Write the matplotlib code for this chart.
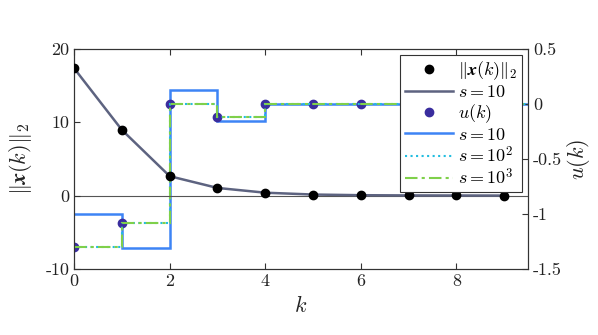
import numpy as np
import matplotlib
matplotlib.use("Agg")
import matplotlib.pyplot as plt
from matplotlib.lines import Line2D

plt.rcParams['font.family'] = ['cmr10', 'DejaVu Serif']
plt.rcParams['mathtext.fontset'] = 'cm'
plt.rcParams['axes.unicode_minus'] = False
plt.rcParams['axes.formatter.use_mathtext'] = False

k = np.arange(10)
x_norm = [17.35, 8.95, 2.65, 1.05, 0.4, 0.15, 0.06, 0.03, 0.02, 0.01]
u_k = [-1.30, -1.086, -0.005, -0.118, -0.005, -0.005, -0.005, -0.005, -0.005, -0.005]
u_s10 = [-1.0, -1.31, 0.125, -0.158, -0.005, -0.005, -0.005, -0.005, -0.005, -0.005]
u_s100 = [-1.30, -1.086, -0.005, -0.115, -0.005, -0.005, -0.005, -0.005, -0.005, -0.005]
u_s1000 = [-1.30, -1.086, -0.005, -0.115, -0.005, -0.005, -0.005, -0.005, -0.005, -0.005]
edges = np.arange(11)

c_norm = '#5d6380'
c_u = '#3a2d9e'
c_s10 = '#3d84f5'
c_s100 = '#22bde0'
c_s1000 = '#7fd04a'
spine_c = '#333333'

fig = plt.figure(figsize=(5.98, 3.35), dpi=100)
ax = fig.add_axes([0.124, 0.197, 0.759, 0.657])
ax2 = ax.twinx()
ax.set_zorder(2)
ax.patch.set_visible(False)

ax.axhline(0, color='#555555', lw=0.8, zorder=1)
ax.plot(k, x_norm, color=c_norm, lw=1.8, zorder=3)
ax.plot(k, x_norm, 'o', color='black', ms=6, zorder=4)

ax2.stairs(u_s10, edges, color=c_s10, lw=1.8, baseline=None)
ax2.plot(k, u_k, 'o', color=c_u, ms=6, zorder=3)
ax2.stairs(u_s100, edges, color=c_s100, lw=1.5, ls=':', baseline=None, zorder=4)
ax2.stairs(u_s1000, edges, color=c_s1000, lw=1.5, ls=(0, (6, 2, 1.5, 2)), baseline=None, zorder=5)

ax.set_xlim(0, 9.5)
ax.set_ylim(-10, 20)
ax2.set_ylim(-1.5, 0.5)
ax.set_xticks([0, 2, 4, 6, 8])
ax.set_yticks([-10, 0, 10, 20])
ax2.set_yticks([-1.5, -1, -0.5, 0, 0.5])
ax2.set_yticklabels(['-1.5', '-1', '-0.5', '0', '0.5'])

for a in (ax, ax2):
    for s in a.spines.values():
        s.set_color(spine_c)
        s.set_linewidth(0.8)
    a.tick_params(direction='in', labelsize=13, colors=spine_c, labelcolor='#222222', length=4, width=0.8)
ax.tick_params(top=True, right=False)
ax2.tick_params(right=True, left=False)

ax.set_xlabel(r'$k$', fontsize=16, color='#222222', labelpad=4)
ax.set_ylabel(r'$\|\boldsymbol{x}(k)\|_2$', fontsize=16, color='#222222', labelpad=8)
ax2.set_ylabel(r'$u(k)$', fontsize=16, color='#222222', labelpad=2, rotation=90)

handles = [
    Line2D([], [], ls='none', marker='o', color='black', ms=6),
    Line2D([], [], color=c_norm, lw=1.8),
    Line2D([], [], ls='none', marker='o', color=c_u, ms=6),
    Line2D([], [], color=c_s10, lw=1.8),
    Line2D([], [], color=c_s100, lw=1.5, ls=':'),
    Line2D([], [], color=c_s1000, lw=1.5, ls=(0, (6, 2, 1.5, 2))),
]
labels = [r'$\|\boldsymbol{x}(k)\|_2$', r'$s = 10$', r'$u(k)$', r'$s = 10$',
          r'$s = 10^2$', r'$s = 10^3$']
leg = ax.legend(handles, labels, loc='upper right', fontsize=13, frameon=True,
                fancybox=False, framealpha=1, edgecolor='#333333',
                borderaxespad=0.35, handlelength=2.65, handletextpad=0.3,
                labelspacing=0.1, borderpad=0.25)
leg.get_frame().set_linewidth(0.8)
leg.set_zorder(10)

fig.savefig('out.png', dpi=100)
